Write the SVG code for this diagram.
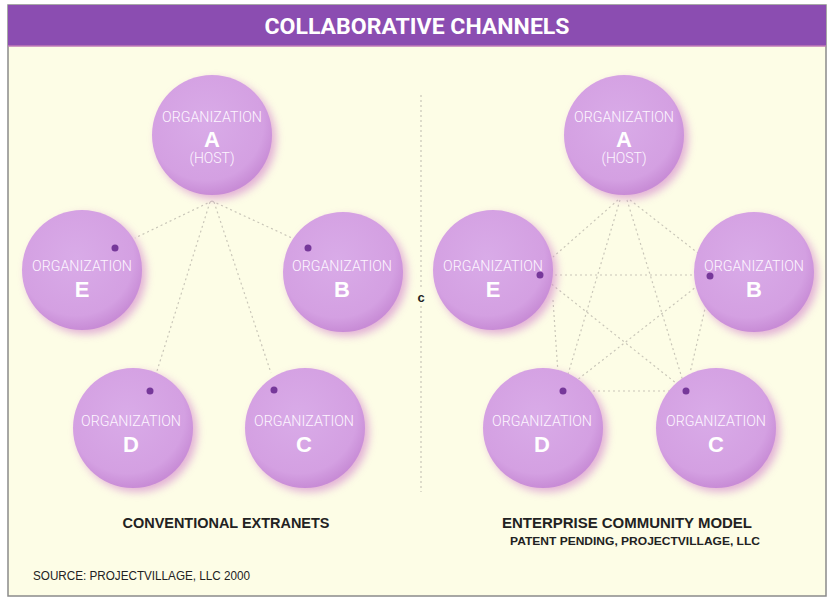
<svg xmlns="http://www.w3.org/2000/svg" width="828" height="599" viewBox="0 0 828 599">
<defs>
<radialGradient id="g" cx="45%" cy="40%" r="60%">
<stop offset="0" stop-color="#d9abe8"/>
<stop offset="0.8" stop-color="#d4a0e2"/>
<stop offset="1" stop-color="#c88cd6"/>
</radialGradient>
<filter id="sh" x="-30%" y="-30%" width="160%" height="160%">
<feGaussianBlur stdDeviation="4"/>
</filter>
<style>
.bg{fill:#fdfde6}
.ban{fill:#8b4db1}
.sh{fill:#d78fcf;opacity:0.7;filter:url(#sh)}
.c{fill:url(#g)}
.org{font-family:Roboto,"Liberation Sans",sans-serif;font-weight:300;font-size:14px;fill:#fdf6ff;text-anchor:middle}
.let{font-family:"Liberation Sans",Arial,sans-serif;font-weight:bold;font-size:22px;fill:#ffffff;text-anchor:middle}
.dot{fill:#76389a}
.ln{stroke:#c9c6b8;stroke-width:1.2;stroke-dasharray:2 3;fill:none}
.lab{font-family:"Liberation Sans",Arial,sans-serif;font-weight:bold;fill:#222;}
</style>
</defs>
<rect x="0" y="0" width="828" height="599" fill="#ffffff"/>
<rect class="bg" x="8" y="5" width="818" height="591" stroke="#8a8a8a" stroke-width="1.5"/>
<rect class="ban" x="8" y="5" width="818" height="41"/>
<line x1="8" y1="46" x2="826" y2="46" stroke="#c07ab8" stroke-width="1.5"/>
<text x="417" y="34" font-family="Roboto,'Liberation Sans',sans-serif" font-weight="bold" font-size="22" fill="#ffffff" text-anchor="middle" textLength="305" lengthAdjust="spacingAndGlyphs">COLLABORATIVE CHANNELS</text>

<g id="connectors">
<path class="ln" d="M212 201 L135 238 M212 201 L292 238 M210 202 L157 371 M214 202 L271 373"/>
<line class="ln" x1="421" y1="95" x2="421" y2="288"/>
<line class="ln" x1="421" y1="306" x2="421" y2="492"/>
<path class="ln" d="M618 200 L553 257 M630 200 L703 257 M620 200 L563 391 M627 200 L686 391 M540 275 L710 275 M563 391 L686 391 M540 275 L686 391 M710 276 L563 391 M553 300 L558 373 M707 300 L690 373"/>
</g>
<text x="421" y="302" font-family="'Liberation Sans',Arial,sans-serif" font-weight="bold" font-size="13" fill="#222" text-anchor="middle">c</text>

<g id="left-A">
<circle class="sh" cx="216" cy="139" r="60"/>
<circle class="c" cx="212" cy="135" r="60"/>
<text class="org" x="212" y="122" textLength="100" lengthAdjust="spacingAndGlyphs">ORGANIZATION</text>
<text class="let" x="212" y="147">A</text>
<text class="org" x="212" y="163">(HOST)</text>
</g>
<g id="left-E">
<circle class="sh" cx="86" cy="274" r="60"/>
<circle class="c" cx="82" cy="270" r="60"/>
<text class="org" x="82" y="271" textLength="100" lengthAdjust="spacingAndGlyphs">ORGANIZATION</text>
<text class="let" x="82" y="297">E</text>
<circle class="dot" cx="115" cy="248" r="3.5"/>
</g>
<g id="left-B">
<circle class="sh" cx="347" cy="276" r="60"/>
<circle class="c" cx="343" cy="272" r="60"/>
<text class="org" x="342" y="271" textLength="100" lengthAdjust="spacingAndGlyphs">ORGANIZATION</text>
<text class="let" x="342" y="297">B</text>
<circle class="dot" cx="308" cy="248" r="3.5"/>
</g>
<g id="left-D">
<circle class="sh" cx="137" cy="432" r="60"/>
<circle class="c" cx="133" cy="428" r="60"/>
<text class="org" x="131" y="426" textLength="100" lengthAdjust="spacingAndGlyphs">ORGANIZATION</text>
<text class="let" x="131" y="452">D</text>
<circle class="dot" cx="150" cy="391" r="3.5"/>
</g>
<g id="left-C">
<circle class="sh" cx="309" cy="432" r="60"/>
<circle class="c" cx="305" cy="428" r="60"/>
<text class="org" x="304" y="426" textLength="100" lengthAdjust="spacingAndGlyphs">ORGANIZATION</text>
<text class="let" x="304" y="452">C</text>
<circle class="dot" cx="274" cy="390" r="3.5"/>
</g>

<g id="right-A">
<circle class="sh" cx="628" cy="139" r="60"/>
<circle class="c" cx="624" cy="135" r="60"/>
<text class="org" x="624" y="122" textLength="100" lengthAdjust="spacingAndGlyphs">ORGANIZATION</text>
<text class="let" x="624" y="147">A</text>
<text class="org" x="624" y="163">(HOST)</text>
</g>
<g id="right-E">
<circle class="sh" cx="497" cy="274" r="60"/>
<circle class="c" cx="493" cy="270" r="60"/>
<text class="org" x="493" y="271" textLength="100" lengthAdjust="spacingAndGlyphs">ORGANIZATION</text>
<text class="let" x="493" y="297">E</text>
<circle class="dot" cx="540" cy="275" r="3.5"/>
</g>
<g id="right-B">
<circle class="sh" cx="758" cy="276" r="60"/>
<circle class="c" cx="754" cy="272" r="60"/>
<text class="org" x="754" y="271" textLength="100" lengthAdjust="spacingAndGlyphs">ORGANIZATION</text>
<text class="let" x="754" y="297">B</text>
<circle class="dot" cx="710" cy="276" r="3.5"/>
</g>
<g id="right-D">
<circle class="sh" cx="547" cy="432" r="60"/>
<circle class="c" cx="543" cy="428" r="60"/>
<text class="org" x="542" y="426" textLength="100" lengthAdjust="spacingAndGlyphs">ORGANIZATION</text>
<text class="let" x="542" y="452">D</text>
<circle class="dot" cx="563" cy="391" r="3.5"/>
</g>
<g id="right-C">
<circle class="sh" cx="720" cy="432" r="60"/>
<circle class="c" cx="716" cy="428" r="60"/>
<text class="org" x="716" y="426" textLength="100" lengthAdjust="spacingAndGlyphs">ORGANIZATION</text>
<text class="let" x="716" y="452">C</text>
<circle class="dot" cx="686" cy="391" r="3.5"/>
</g>

<text class="lab" x="226" y="528" font-size="14" text-anchor="middle" textLength="207" lengthAdjust="spacingAndGlyphs">CONVENTIONAL EXTRANETS</text>
<text class="lab" x="627" y="528" font-size="14" text-anchor="middle" textLength="250" lengthAdjust="spacingAndGlyphs">ENTERPRISE COMMUNITY MODEL</text>
<text class="lab" x="635" y="545" font-size="11" text-anchor="middle" textLength="250" lengthAdjust="spacingAndGlyphs">PATENT PENDING, PROJECTVILLAGE, LLC</text>
<text x="33" y="580" font-family="'Liberation Sans',Arial,sans-serif" font-size="12" fill="#222" textLength="217" lengthAdjust="spacingAndGlyphs">SOURCE: PROJECTVILLAGE, LLC 2000</text>
</svg>
